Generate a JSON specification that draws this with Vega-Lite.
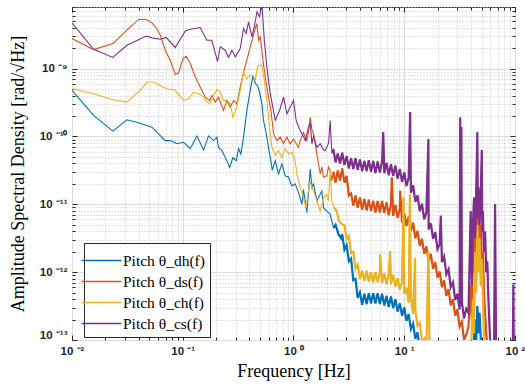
{
"$schema": "https://vega.github.io/schema/vega-lite/v6.json",
"width": 443, "height": 333,
"autosize": {"type": "none"},
"padding": {"left": 72, "top": 7, "right": 10, "bottom": 45},
"background": "white",
"config": {"view": {"stroke": "#262626", "strokeWidth": 1}},
"data": {"values": [
{"s":"dh","f":0.01,"v":4.79e-10},{"s":"dh","f":0.01567,"v":2.04e-10},{"s":"dh","f":0.0234,"v":1.2e-10},{"s":"dh","f":0.0313,"v":1.76e-10},{"s":"dh","f":0.0413,"v":1.57e-10},{"s":"dh","f":0.0527,"v":1.37e-10},{"s":"dh","f":0.0627,"v":1.03e-10},{"s":"dh","f":0.0695,"v":8.7e-11},{"s":"dh","f":0.0771,"v":8.7e-11},{"s":"dh","f":0.0887,"v":7.8e-11},{"s":"dh","f":0.1016,"v":8.2e-11},{"s":"dh","f":0.117,"v":6.6e-11},{"s":"dh","f":0.1343,"v":1.02e-10},{"s":"dh","f":0.1542,"v":6.3e-11},{"s":"dh","f":0.171,"v":1.02e-10},{"s":"dh","f":0.1897,"v":8.7e-11},{"s":"dh","f":0.2032,"v":9.8e-11},{"s":"dh","f":0.2104,"v":6.9e-11},{"s":"dh","f":0.2259,"v":6.2e-11},{"s":"dh","f":0.2333,"v":5.5e-11},{"s":"dh","f":0.2506,"v":4.37e-11},{"s":"dh","f":0.2649,"v":3.5e-11},{"s":"dh","f":0.2838,"v":4.9e-11},{"s":"dh","f":0.3041,"v":4.37e-11},{"s":"dh","f":0.3192,"v":6.6e-11},{"s":"dh","f":0.335,"v":5.5e-11},{"s":"dh","f":0.354,"v":9.8e-11},{"s":"dh","f":0.3793,"v":2.42e-10},{"s":"dh","f":0.4064,"v":4.79e-10},{"s":"dh","f":0.4305,"v":7.94e-10},{"s":"dh","f":0.4508,"v":6.03e-10},{"s":"dh","f":0.4732,"v":5.66e-10},{"s":"dh","f":0.4932,"v":4.51e-10},{"s":"dh","f":0.5188,"v":3.02e-10},{"s":"dh","f":0.5358,"v":1.72e-10},{"s":"dh","f":0.5675,"v":1.1e-10},{"s":"dh","f":0.5943,"v":6.9e-11},{"s":"dh","f":0.6252,"v":4.37e-11},{"s":"dh","f":0.6427,"v":3.16e-11},{"s":"dh","f":0.6839,"v":4.37e-11},{"s":"dh","f":0.7328,"v":2.82e-11},{"s":"dh","f":0.7852,"v":3.94e-11},{"s":"dh","f":0.8414,"v":2.63e-11},{"s":"dh","f":0.9016,"v":2.51e-11},{"s":"dh","f":0.9683,"v":1.86e-11},{"s":"dh","f":1.035,"v":2.0e-11},{"s":"dh","f":1.109,"v":1.5e-11},{"s":"dh","f":1.191,"v":1.0e-11},{"s":"dh","f":1.23,"v":1.66e-11},{"s":"dh","f":1.321,"v":7.6e-12},{"s":"dh","f":1.416,"v":3.31e-11},{"s":"dh","f":1.466,"v":1.78e-11},{"s":"dh","f":1.517,"v":2.0e-11},{"s":"dh","f":1.626,"v":1.12e-11},{"s":"dh","f":1.683,"v":1.26e-11},{"s":"dh","f":1.803,"v":1.58e-11},{"s":"dh","f":1.866,"v":8.91e-12},{"s":"dh","f":2.0,"v":7.94e-12},{"s":"dh","f":2.143,"v":7.16e-12},{"s":"dh","f":2.296,"v":4.52e-12},{"s":"dh","f":2.399,"v":5.01e-12},{"s":"dh","f":2.547,"v":3.63e-12},{"s":"dh","f":2.692,"v":3.16e-12},
{"s":"dh","f":2.754,"v":3.63e-12},{"s":"dh","f":2.884,"v":2.14e-12},{"s":"dh","f":3.02,"v":2.51e-12},{"s":"dh","f":3.162,"v":1.45e-12},{"s":"dh","f":3.311,"v":1.58e-12},{"s":"dh","f":3.467,"v":7.59e-13},{"s":"dh","f":3.631,"v":7.94e-13},{"s":"dh","f":3.802,"v":4.17e-13},{"s":"dh","f":3.981,"v":5.01e-13},{"s":"dh","f":4.169,"v":3.31e-13},{"s":"dh","f":4.365,"v":4.79e-13},{"s":"dh","f":4.571,"v":3.39e-13},{"s":"dh","f":4.786,"v":4.9e-13},{"s":"dh","f":5.012,"v":3.47e-13},{"s":"dh","f":5.248,"v":4.9e-13},{"s":"dh","f":5.495,"v":3.47e-13},{"s":"dh","f":5.754,"v":4.9e-13},{"s":"dh","f":6.026,"v":3.39e-13},{"s":"dh","f":6.31,"v":4.79e-13},{"s":"dh","f":6.607,"v":3.24e-13},{"s":"dh","f":6.918,"v":4.47e-13},{"s":"dh","f":7.244,"v":3.09e-13},{"s":"dh","f":7.586,"v":4.37e-13},{"s":"dh","f":7.943,"v":2.95e-13},{"s":"dh","f":8.318,"v":3.98e-13},{"s":"dh","f":8.71,"v":2.63e-13},{"s":"dh","f":9.12,"v":3.47e-13},{"s":"dh","f":9.55,"v":2.29e-13},{"s":"dh","f":10,"v":3.02e-13},{"s":"dh","f":10.47,"v":1.91e-13},{"s":"dh","f":10.96,"v":2.4e-13},{"s":"dh","f":11.48,"v":1.45e-13},{"s":"dh","f":12.02,"v":1.74e-13},{"s":"dh","f":12.59,"v":1.05e-13},{"s":"dh","f":13.18,"v":1.29e-13},{"s":"dh","f":13.8,"v":7.6e-14},{"s":"dh","f":14.45,"v":7.1e-14},{"s":"dh","f":15.85,"v":5e-14},{"s":"dh","f":41.69,"v":5e-14},{"s":"dh","f":43.65,"v":2.0e-13},{"s":"dh","f":44.67,"v":1.0e-13},{"s":"dh","f":45.71,"v":3.16e-13},{"s":"dh","f":46.77,"v":1.26e-13},{"s":"dh","f":47.86,"v":2.51e-13},{"s":"dh","f":50.12,"v":5e-14},{"s":"dh","f":97.7,"v":5e-14},

{"s":"ds","f":0.01,"v":2.78e-9},{"s":"ds","f":0.01567,"v":1.91e-9},{"s":"ds","f":0.0234,"v":2.34e-9},{"s":"ds","f":0.0313,"v":3.69e-9},{"s":"ds","f":0.0399,"v":5.31e-9},{"s":"ds","f":0.0469,"v":5.31e-9},{"s":"ds","f":0.0527,"v":4.73e-9},{"s":"ds","f":0.0585,"v":3.91e-9},{"s":"ds","f":0.0627,"v":3.11e-9},{"s":"ds","f":0.0695,"v":1.87e-9},{"s":"ds","f":0.0771,"v":1.33e-9},{"s":"ds","f":0.0855,"v":8.24e-10},{"s":"ds","f":0.0916,"v":8.61e-10},{"s":"ds","f":0.1005,"v":1.41e-9},{"s":"ds","f":0.1076,"v":1.52e-9},{"s":"ds","f":0.117,"v":1.19e-9},{"s":"ds","f":0.1297,"v":7.52e-10},{"s":"ds","f":0.1439,"v":5.35e-10},{"s":"ds","f":0.1596,"v":3.8e-10},{"s":"ds","f":0.1746,"v":3.4e-10},{"s":"ds","f":0.1832,"v":4.03e-10},{"s":"ds","f":0.1963,"v":3.21e-10},{"s":"ds","f":0.2104,"v":3.8e-10},{"s":"ds","f":0.2213,"v":3.03e-10},{"s":"ds","f":0.2333,"v":2.42e-10},{"s":"ds","f":0.2506,"v":3.4e-10},{"s":"ds","f":0.2685,"v":2.7e-10},{"s":"ds","f":0.2877,"v":3.4e-10},{"s":"ds","f":0.3083,"v":3.03e-10},{"s":"ds","f":0.3304,"v":5.35e-10},{"s":"ds","f":0.354,"v":8.91e-10},{"s":"ds","f":0.3793,"v":1.33e-9},{"s":"ds","f":0.4064,"v":2.09e-9},{"s":"ds","f":0.4305,"v":2.93e-9},{"s":"ds","f":0.4508,"v":3.91e-9},{"s":"ds","f":0.4677,"v":4.63e-9},{"s":"ds","f":0.4831,"v":2.62e-9},{"s":"ds","f":0.5012,"v":2.93e-9},{"s":"ds","f":0.53,"v":1.33e-9},{"s":"ds","f":0.5559,"v":7.52e-10},{"s":"ds","f":0.5943,"v":3.8e-10},{"s":"ds","f":0.6252,"v":2.42e-10},{"s":"ds","f":0.6607,"v":1.1e-10},{"s":"ds","f":0.7079,"v":8.7e-11},{"s":"ds","f":0.7586,"v":9.8e-11},{"s":"ds","f":0.8128,"v":7.8e-11},{"s":"ds","f":0.871,"v":9.8e-11},{"s":"ds","f":0.9333,"v":7.8e-11},{"s":"ds","f":1.0,"v":9.2e-11},{"s":"ds","f":1.109,"v":6.9e-11},{"s":"ds","f":1.148,"v":8.7e-11},{"s":"ds","f":1.23,"v":1.15e-10},{"s":"ds","f":1.321,"v":8.7e-11},{"s":"ds","f":1.365,"v":1.15e-10},{"s":"ds","f":1.416,"v":1.92e-10},{"s":"ds","f":1.466,"v":1.26e-10},{"s":"ds","f":1.517,"v":1.1e-10},{"s":"ds","f":1.626,"v":5.5e-11},{"s":"ds","f":1.742,"v":2.82e-11},{"s":"ds","f":1.803,"v":3.55e-11},{"s":"ds","f":1.866,"v":2.51e-11},{"s":"ds","f":2.0,"v":2.63e-11},{"s":"ds","f":2.07,"v":3.55e-11},{"s":"ds","f":2.143,"v":3.16e-11},{"s":"ds","f":2.218,"v":2.24e-11},
{"s":"ds","f":2.291,"v":3.02e-11},{"s":"ds","f":2.399,"v":2.09e-11},{"s":"ds","f":2.512,"v":3.16e-11},{"s":"ds","f":2.63,"v":2.24e-11},{"s":"ds","f":2.754,"v":3.39e-11},{"s":"ds","f":2.884,"v":2.09e-11},{"s":"ds","f":3.02,"v":2.63e-11},{"s":"ds","f":3.162,"v":1.35e-11},{"s":"ds","f":3.311,"v":1.45e-11},{"s":"ds","f":3.467,"v":9.55e-12},{"s":"ds","f":3.631,"v":1.35e-11},{"s":"ds","f":3.802,"v":8.91e-12},{"s":"ds","f":3.981,"v":1.26e-11},{"s":"ds","f":4.169,"v":8.32e-12},{"s":"ds","f":4.365,"v":1.2e-11},{"s":"ds","f":4.571,"v":8.13e-12},{"s":"ds","f":4.786,"v":1.17e-11},{"s":"ds","f":5.012,"v":7.94e-12},{"s":"ds","f":5.248,"v":1.12e-11},{"s":"ds","f":5.495,"v":7.59e-12},{"s":"ds","f":5.754,"v":1.12e-11},{"s":"ds","f":6.026,"v":7.59e-12},{"s":"ds","f":6.31,"v":1.12e-11},{"s":"ds","f":6.607,"v":7.41e-12},{"s":"ds","f":6.918,"v":1.07e-11},{"s":"ds","f":7.244,"v":6.92e-12},{"s":"ds","f":7.586,"v":1.0e-11},{"s":"ds","f":7.727,"v":2.51e-11},{"s":"ds","f":7.943,"v":6.76e-12},{"s":"ds","f":8.318,"v":9.77e-12},{"s":"ds","f":8.71,"v":6.31e-12},{"s":"ds","f":9.12,"v":8.51e-12},{"s":"ds","f":9.18,"v":1.58e-11},{"s":"ds","f":9.55,"v":5.37e-12},{"s":"ds","f":10,"v":7.41e-12},{"s":"ds","f":10.47,"v":4.79e-12},{"s":"ds","f":10.96,"v":6.61e-12},{"s":"ds","f":11.48,"v":4.07e-12},{"s":"ds","f":12.02,"v":5.37e-12},{"s":"ds","f":12.59,"v":3.16e-12},{"s":"ds","f":13.18,"v":4.07e-12},{"s":"ds","f":13.8,"v":2.45e-12},{"s":"ds","f":14.45,"v":3.09e-12},{"s":"ds","f":15.14,"v":1.86e-12},{"s":"ds","f":15.85,"v":2.4e-12},{"s":"ds","f":16.6,"v":1.45e-12},{"s":"ds","f":17.38,"v":1.86e-12},{"s":"ds","f":18.2,"v":1.12e-12},{"s":"ds","f":19.05,"v":1.41e-12},{"s":"ds","f":19.95,"v":8.32e-13},{"s":"ds","f":20.89,"v":1.02e-12},{"s":"ds","f":21.88,"v":6.03e-13},{"s":"ds","f":22.91,"v":7.59e-13},{"s":"ds","f":23.99,"v":4.47e-13},{"s":"ds","f":25.12,"v":5.62e-13},{"s":"ds","f":26.3,"v":3.24e-13},{"s":"ds","f":27.54,"v":3.98e-13},{"s":"ds","f":28.84,"v":2.29e-13},{"s":"ds","f":30.2,"v":2.82e-13},{"s":"ds","f":31.62,"v":1.58e-13},{"s":"ds","f":33.11,"v":1.86e-13},{"s":"ds","f":34.67,"v":1.0e-13},{"s":"ds","f":36.31,"v":1.2e-13},{"s":"ds","f":38.02,"v":1.58e-13},{"s":"ds","f":39.81,"v":6.31e-13},{"s":"ds","f":40.74,"v":2.0e-13},{"s":"ds","f":41.69,"v":3.16e-12},{"s":"ds","f":42.66,"v":1.0e-12},{"s":"ds","f":43.65,"v":6.31e-12},{"s":"ds","f":44.16,"v":1.26e-12},{"s":"ds","f":44.67,"v":1.78e-11},{"s":"ds","f":45.19,"v":3.16e-12},{"s":"ds","f":45.71,"v":5.01e-12},{"s":"ds","f":46.77,"v":1.0e-11},{"s":"ds","f":47.86,"v":2.51e-12},{"s":"ds","f":48.98,"v":5.01e-12},{"s":"ds","f":50.12,"v":1.0e-12},{"s":"ds","f":51.29,"v":2.0e-12},{"s":"ds","f":52.48,"v":5.01e-13},{"s":"ds","f":54.95,"v":1.26e-13},{"s":"ds","f":57.54,"v":5e-14},{"s":"ds","f":97.7,"v":5e-14},

{"s":"ch","f":0.01,"v":5.06e-10},{"s":"ch","f":0.01567,"v":4.27e-10},{"s":"ch","f":0.0234,"v":3.48e-10},{"s":"ch","f":0.0313,"v":3.21e-10},{"s":"ch","f":0.0413,"v":4.79e-10},{"s":"ch","f":0.0475,"v":6.34e-10},{"s":"ch","f":0.0546,"v":6.34e-10},{"s":"ch","f":0.0627,"v":5.66e-10},{"s":"ch","f":0.071,"v":5.06e-10},{"s":"ch","f":0.0855,"v":4.79e-10},{"s":"ch","f":0.1016,"v":3.4e-10},{"s":"ch","f":0.1127,"v":3.6e-10},{"s":"ch","f":0.125,"v":4.51e-10},{"s":"ch","f":0.139,"v":4.27e-10},{"s":"ch","f":0.1542,"v":3.8e-10},{"s":"ch","f":0.1652,"v":3.21e-10},{"s":"ch","f":0.1746,"v":3.03e-10},{"s":"ch","f":0.1897,"v":4.03e-10},{"s":"ch","f":0.2032,"v":4.9e-10},{"s":"ch","f":0.2178,"v":4.51e-10},{"s":"ch","f":0.2333,"v":3.4e-10},{"s":"ch","f":0.2506,"v":3.4e-10},{"s":"ch","f":0.2685,"v":3.03e-10},{"s":"ch","f":0.2838,"v":1.92e-10},{"s":"ch","f":0.3041,"v":2.56e-10},{"s":"ch","f":0.3304,"v":4.79e-10},{"s":"ch","f":0.354,"v":8.91e-10},{"s":"ch","f":0.3793,"v":7.11e-10},{"s":"ch","f":0.4064,"v":7.96e-10},{"s":"ch","f":0.4305,"v":7.94e-10},{"s":"ch","f":0.4508,"v":6.71e-10},{"s":"ch","f":0.4732,"v":1.06e-9},{"s":"ch","f":0.4932,"v":1.12e-9},{"s":"ch","f":0.5188,"v":1.12e-9},{"s":"ch","f":0.5445,"v":6.71e-10},{"s":"ch","f":0.5754,"v":3.4e-10},{"s":"ch","f":0.6081,"v":1.37e-10},{"s":"ch","f":0.6383,"v":6.92e-11},{"s":"ch","f":0.6839,"v":5.25e-11},{"s":"ch","f":0.7328,"v":6.17e-11},{"s":"ch","f":0.7852,"v":4.9e-11},{"s":"ch","f":0.8414,"v":6.61e-11},{"s":"ch","f":0.9016,"v":5.5e-11},{"s":"ch","f":0.9683,"v":5.89e-11},{"s":"ch","f":1.035,"v":4.37e-11},{"s":"ch","f":1.072,"v":2.82e-11},{"s":"ch","f":1.148,"v":1.78e-11},{"s":"ch","f":1.23,"v":1.26e-11},{"s":"ch","f":1.303,"v":8.91e-12},{"s":"ch","f":1.349,"v":1.41e-11},{"s":"ch","f":1.416,"v":2.24e-11},{"s":"ch","f":1.466,"v":1.78e-11},{"s":"ch","f":1.517,"v":1.58e-11},{"s":"ch","f":1.626,"v":1.12e-11},{"s":"ch","f":1.742,"v":7.94e-12},{"s":"ch","f":1.866,"v":1.26e-11},{"s":"ch","f":2.0,"v":1.41e-11},{"s":"ch","f":2.07,"v":1.12e-11},{"s":"ch","f":2.143,"v":3.16e-11},{"s":"ch","f":2.218,"v":1.12e-11},{"s":"ch","f":2.323,"v":8.91e-12},{"s":"ch","f":2.46,"v":7.94e-12},{"s":"ch","f":2.576,"v":5.62e-12},{"s":"ch","f":2.729,"v":5.13e-12},
{"s":"ch","f":2.884,"v":4.9e-12},{"s":"ch","f":3.02,"v":3.02e-12},{"s":"ch","f":3.162,"v":3.39e-12},{"s":"ch","f":3.311,"v":1.91e-12},{"s":"ch","f":3.467,"v":2.0e-12},{"s":"ch","f":3.631,"v":1.12e-12},{"s":"ch","f":3.802,"v":1.29e-12},{"s":"ch","f":3.981,"v":7.94e-13},{"s":"ch","f":4.169,"v":1.05e-12},{"s":"ch","f":4.365,"v":7.41e-13},{"s":"ch","f":4.571,"v":1.05e-12},{"s":"ch","f":4.786,"v":7.24e-13},{"s":"ch","f":5.012,"v":1.0e-12},{"s":"ch","f":5.248,"v":7.08e-13},{"s":"ch","f":5.495,"v":1.0e-12},{"s":"ch","f":5.754,"v":7.08e-13},{"s":"ch","f":6.026,"v":1.0e-12},{"s":"ch","f":6.05,"v":1.84e-12},{"s":"ch","f":6.31,"v":6.92e-13},{"s":"ch","f":6.607,"v":9.55e-13},{"s":"ch","f":6.918,"v":6.61e-13},{"s":"ch","f":7.244,"v":9.33e-13},{"s":"ch","f":7.46,"v":2.04e-12},{"s":"ch","f":7.586,"v":6.61e-13},{"s":"ch","f":7.943,"v":9.12e-13},{"s":"ch","f":8.318,"v":6.17e-13},{"s":"ch","f":8.71,"v":8.13e-13},{"s":"ch","f":9.12,"v":5.5e-13},{"s":"ch","f":9.55,"v":7.24e-13},{"s":"ch","f":9.84,"v":1.26e-11},{"s":"ch","f":10,"v":4.79e-13},{"s":"ch","f":10.47,"v":5.89e-13},{"s":"ch","f":10.96,"v":3.55e-13},{"s":"ch","f":11.25,"v":1.41e-11},{"s":"ch","f":11.48,"v":4.17e-13},{"s":"ch","f":12.02,"v":2.45e-13},{"s":"ch","f":12.53,"v":1.62e-12},{"s":"ch","f":12.59,"v":2.82e-13},{"s":"ch","f":13.18,"v":1.62e-13},{"s":"ch","f":13.8,"v":1.78e-13},{"s":"ch","f":14.45,"v":9.5e-14},{"s":"ch","f":15.14,"v":1.05e-13},{"s":"ch","f":15.85,"v":7.1e-14},{"s":"ch","f":16.52,"v":2.04e-12},{"s":"ch","f":17,"v":5e-14},{"s":"ch","f":39.81,"v":5e-14},{"s":"ch","f":41.69,"v":3.98e-13},{"s":"ch","f":42.66,"v":1.26e-13},{"s":"ch","f":43.65,"v":2.0e-12},{"s":"ch","f":44.67,"v":5.01e-13},{"s":"ch","f":45.71,"v":5.01e-12},{"s":"ch","f":46.77,"v":1.0e-12},{"s":"ch","f":47.86,"v":3.16e-12},{"s":"ch","f":48.98,"v":6.31e-13},{"s":"ch","f":50.12,"v":1.58e-12},{"s":"ch","f":52.48,"v":1.26e-13},{"s":"ch","f":54.95,"v":5e-14},{"s":"ch","f":97.7,"v":5e-14},

{"s":"cs","f":0.01,"v":4.73e-9},{"s":"cs","f":0.01567,"v":1.93e-9},{"s":"cs","f":0.0234,"v":1.46e-9},{"s":"cs","f":0.0313,"v":2.21e-9},{"s":"cs","f":0.0469,"v":3.03e-9},{"s":"cs","f":0.0527,"v":2.84e-9},{"s":"cs","f":0.0627,"v":2.71e-9},{"s":"cs","f":0.071,"v":2.88e-9},{"s":"cs","f":0.0855,"v":2.05e-9},{"s":"cs","f":0.1054,"v":3.6e-9},{"s":"cs","f":0.115,"v":3.78e-9},{"s":"cs","f":0.1439,"v":4.04e-9},{"s":"cs","f":0.165,"v":2.62e-9},{"s":"cs","f":0.183,"v":2.62e-9},{"s":"cs","f":0.206,"v":1.28e-9},{"s":"cs","f":0.218,"v":2.09e-9},{"s":"cs","f":0.242,"v":1.87e-9},{"s":"cs","f":0.259,"v":1.46e-9},{"s":"cs","f":0.278,"v":1.87e-9},{"s":"cs","f":0.298,"v":1.49e-9},{"s":"cs","f":0.33,"v":1.98e-9},{"s":"cs","f":0.354,"v":3.91e-9},{"s":"cs","f":0.374,"v":3.3e-9},{"s":"cs","f":0.393,"v":4.89e-9},{"s":"cs","f":0.422,"v":2.93e-9},{"s":"cs","f":0.445,"v":4.37e-9},{"s":"cs","f":0.468,"v":6.87e-9},{"s":"cs","f":0.493,"v":5.8e-9},{"s":"cs","f":0.519,"v":8.9e-9},{"s":"cs","f":0.545,"v":2.62e-9},{"s":"cs","f":0.575,"v":1.05e-9},{"s":"cs","f":0.617,"v":4.27e-10},{"s":"cs","f":0.684,"v":1.74e-10},{"s":"cs","f":0.748,"v":2.42e-10},{"s":"cs","f":0.813,"v":3.8e-10},{"s":"cs","f":0.871,"v":2.16e-10},{"s":"cs","f":0.933,"v":2.7e-10},{"s":"cs","f":1.0,"v":3.4e-10},{"s":"cs","f":1.057,"v":1.72e-10},{"s":"cs","f":1.148,"v":1.22e-10},{"s":"cs","f":1.23,"v":1.0e-10},{"s":"cs","f":1.276,"v":8.7e-11},{"s":"cs","f":1.365,"v":1.37e-10},{"s":"cs","f":1.416,"v":1.6e-10},{"s":"cs","f":1.466,"v":7.8e-11},{"s":"cs","f":1.517,"v":1.0e-10},{"s":"cs","f":1.626,"v":6.9e-11},{"s":"cs","f":1.742,"v":7.8e-11},{"s":"cs","f":1.866,"v":6.3e-11},{"s":"cs","f":1.932,"v":6.2e-11},{"s":"cs","f":2.07,"v":7.9e-11},{"s":"cs","f":2.143,"v":1.72e-10},{"s":"cs","f":2.22,"v":5.6e-11},
{"s":"cs","f":2.291,"v":6.46e-11},{"s":"cs","f":2.399,"v":4.17e-11},{"s":"cs","f":2.512,"v":5.62e-11},{"s":"cs","f":2.63,"v":3.98e-11},{"s":"cs","f":2.754,"v":5.75e-11},{"s":"cs","f":2.884,"v":3.8e-11},{"s":"cs","f":3.02,"v":5.13e-11},{"s":"cs","f":3.162,"v":3.39e-11},{"s":"cs","f":3.311,"v":4.79e-11},{"s":"cs","f":3.467,"v":3.31e-11},{"s":"cs","f":3.631,"v":4.79e-11},{"s":"cs","f":3.802,"v":3.24e-11},{"s":"cs","f":3.981,"v":4.57e-11},{"s":"cs","f":4.169,"v":3.09e-11},{"s":"cs","f":4.365,"v":4.37e-11},{"s":"cs","f":4.571,"v":3.09e-11},{"s":"cs","f":4.786,"v":4.47e-11},{"s":"cs","f":5.012,"v":3.02e-11},{"s":"cs","f":5.248,"v":4.37e-11},{"s":"cs","f":5.495,"v":2.88e-11},{"s":"cs","f":5.754,"v":4.27e-11},{"s":"cs","f":6.026,"v":2.95e-11},{"s":"cs","f":6.31,"v":4.27e-11},{"s":"cs","f":6.457,"v":1.15e-10},{"s":"cs","f":6.607,"v":2.88e-11},{"s":"cs","f":6.918,"v":4.07e-11},{"s":"cs","f":7.244,"v":2.69e-11},{"s":"cs","f":7.586,"v":3.89e-11},{"s":"cs","f":7.943,"v":2.63e-11},{"s":"cs","f":8.318,"v":3.72e-11},{"s":"cs","f":8.71,"v":2.4e-11},{"s":"cs","f":9.12,"v":3.31e-11},{"s":"cs","f":9.55,"v":2.14e-11},{"s":"cs","f":10,"v":2.95e-11},{"s":"cs","f":10.47,"v":1.86e-11},{"s":"cs","f":10.96,"v":2.45e-11},{"s":"cs","f":11.3,"v":2.29e-10},{"s":"cs","f":11.48,"v":1.48e-11},{"s":"cs","f":12.02,"v":1.91e-11},{"s":"cs","f":12.59,"v":1.1e-11},{"s":"cs","f":13.18,"v":1.35e-11},{"s":"cs","f":13.8,"v":7.94e-12},{"s":"cs","f":14.45,"v":1.02e-11},{"s":"cs","f":15.14,"v":6.03e-12},{"s":"cs","f":15.85,"v":7.59e-12},{"s":"cs","f":16.52,"v":9.1e-11},{"s":"cs","f":16.6,"v":4.27e-12},{"s":"cs","f":17.38,"v":5.25e-12},{"s":"cs","f":18.2,"v":3.09e-12},{"s":"cs","f":19.05,"v":3.89e-12},{"s":"cs","f":19.95,"v":2.19e-12},{"s":"cs","f":20.89,"v":2.57e-12},{"s":"cs","f":21.38,"v":6.76e-12},{"s":"cs","f":21.88,"v":1.41e-12},{"s":"cs","f":22.91,"v":1.7e-12},{"s":"cs","f":23.99,"v":9.33e-13},{"s":"cs","f":25.12,"v":1.1e-12},{"s":"cs","f":26.3,"v":6.03e-13},{"s":"cs","f":27.54,"v":7.08e-13},{"s":"cs","f":28.84,"v":3.89e-13},{"s":"cs","f":30.2,"v":4.79e-13},{"s":"cs","f":31.62,"v":2.82e-13},{"s":"cs","f":32.0,"v":1.9e-10},{"s":"cs","f":32.4,"v":3.16e-13},{"s":"cs","f":32.8,"v":1.38e-10},{"s":"cs","f":33.11,"v":3.63e-13},{"s":"cs","f":34.67,"v":2.09e-13},{"s":"cs","f":36.31,"v":2.88e-13},{"s":"cs","f":38.02,"v":2.51e-13},{"s":"cs","f":39.81,"v":7.94e-12},{"s":"cs","f":40.74,"v":6.31e-13},{"s":"cs","f":41.69,"v":5.01e-12},{"s":"cs","f":42.66,"v":1.26e-11},{"s":"cs","f":43.65,"v":3.16e-12},{"s":"cs","f":44.67,"v":1.58e-11},{"s":"cs","f":45.71,"v":1.15e-10},{"s":"cs","f":46.24,"v":6.31e-12},{"s":"cs","f":46.77,"v":1.78e-11},{"s":"cs","f":47.86,"v":5.01e-12},{"s":"cs","f":48.98,"v":1.26e-11},{"s":"cs","f":50.12,"v":6.31e-11},{"s":"cs","f":50.7,"v":3.98e-12},{"s":"cs","f":51.29,"v":7.94e-12},{"s":"cs","f":52.48,"v":2.0e-12},{"s":"cs","f":53.7,"v":3.98e-12},{"s":"cs","f":54.95,"v":1.0e-12},{"s":"cs","f":56.23,"v":1.45e-12},{"s":"cs","f":57.54,"v":3.98e-13},{"s":"cs","f":58.88,"v":1.58e-13},{"s":"cs","f":60.26,"v":6.3e-14},{"s":"cs","f":64.6,"v":5e-14},{"s":"cs","f":66.07,"v":1.0e-11},{"s":"cs","f":67.6,"v":5e-14},{"s":"cs","f":95.5,"v":5e-14},{"s":"cs","f":96.6,"v":6.6e-13},{"s":"cs","f":97.7,"v":5e-14}
]},
"layer": [
{
"mark": {"type": "line", "clip": true, "strokeWidth": 1.1},
"encoding": {
"x": {"field": "f", "type": "quantitative",
 "scale": {"type": "log", "domain": [0.01, 100], "nice": false},
 "axis": {"orient": "bottom", "values": [0.01,0.02,0.03,0.04,0.05,0.06,0.07,0.08,0.09,0.1,0.2,0.3,0.4,0.5,0.6,0.7,0.8,0.9,1,2,3,4,5,6,7,8,9,10,20,30,40,50,60,70,80,90,100],
  "title": "Frequency [Hz]", "titleFont": "Liberation Serif", "titleFontSize": 18, "titleFontWeight": "normal", "titleColor": "#000000", "titlePadding": 4,
  "labelExpr": "abs(log(datum.value)/LN10-round(log(datum.value)/LN10))<0.01 ? ['10 ⁻²','10 ⁻¹','10 ⁰','10 ¹','10 ²'][round(log(datum.value)/LN10)+2] : ''",
  "labelFont": "Liberation Sans", "labelFontSize": 11.5, "labelFontWeight": "bold", "labelColor": "#262626", "labelFlush": false, "labelOverlap": false, "labelPadding": 10,
  "domain": false, "tickColor": "#262626",
  "tickSize": {"condition": {"test": "abs(log(datum.value)/LN10-round(log(datum.value)/LN10))<0.01", "value": -5}, "value": -3},
  "grid": true,
  "gridColor": {"condition": {"test": "abs(log(datum.value)/LN10-round(log(datum.value)/LN10))<0.01", "value": "#dcdcdc"}, "value": "#c8c8c8"},
  "gridDash": {"condition": {"test": "abs(log(datum.value)/LN10-round(log(datum.value)/LN10))<0.01", "value": []}, "value": [1, 2]}
 }},
"y": {"field": "v", "type": "quantitative",
 "scale": {"type": "log", "domain": [1e-13, 8.1e-9], "nice": false},
 "axis": {"orient": "left", "values": [1e-13,2e-13,3e-13,4e-13,5e-13,6e-13,7e-13,8e-13,9e-13,1e-12,2e-12,3e-12,4e-12,5e-12,6e-12,7e-12,8e-12,9e-12,1e-11,2e-11,3e-11,4e-11,5e-11,6e-11,7e-11,8e-11,9e-11,1e-10,2e-10,3e-10,4e-10,5e-10,6e-10,7e-10,8e-10,9e-10,1e-9,2e-9,3e-9,4e-9,5e-9,6e-9,7e-9,8e-9],
  "title": "Amplitude Spectral Density [rad/√Hz]", "titleFont": "Liberation Serif", "titleFontSize": 18, "titleFontWeight": "normal", "titleColor": "#000000", "titlePadding": 12,
  "labelExpr": "abs(log(datum.value)/LN10-round(log(datum.value)/LN10))<0.01 ? ['10 ⁻¹³','10 ⁻¹²','10 ⁻¹¹','10 ⁻¹⁰','10 ⁻⁹'][round(log(datum.value)/LN10)+13] : ''",
  "labelFont": "Liberation Sans", "labelFontSize": 11.5, "labelFontWeight": "bold", "labelColor": "#262626", "labelFlush": true, "labelOverlap": false, "labelPadding": 10,
  "domain": false, "tickColor": "#262626",
  "tickSize": {"condition": {"test": "abs(log(datum.value)/LN10-round(log(datum.value)/LN10))<0.01", "value": -5}, "value": -3},
  "grid": true,
  "gridColor": {"condition": {"test": "abs(log(datum.value)/LN10-round(log(datum.value)/LN10))<0.01", "value": "#dcdcdc"}, "value": "#c8c8c8"},
  "gridDash": {"condition": {"test": "abs(log(datum.value)/LN10-round(log(datum.value)/LN10))<0.01", "value": []}, "value": [1, 2]}
 }},
"color": {"field": "s", "type": "nominal",
 "scale": {"domain": ["dh", "ds", "ch", "cs"], "range": ["#0072BD", "#D95319", "#EDB120", "#7E2F8E"]},
 "legend": {"orient": "none", "legendX": 12, "legendY": 236, "title": null, "fillColor": "white", "strokeColor": "#262626", "padding": 5,
  "symbolType": "M-1.7,0H1.7", "symbolSize": 550, "symbolStrokeWidth": 1.5, "labelFont": "Liberation Serif", "labelFontSize": 15.5, "labelColor": "#000000", "labelOffset": 9, "rowPadding": 0,
  "labelExpr": "'Pitch θ_' + datum.label + '(f)'"}}
}
},
{
"transform": [{"filter": "datum.f > 2.25"}],
"mark": {"type": "line", "clip": true, "strokeWidth": 2.2},
"encoding": {
"x": {"field": "f", "type": "quantitative", "scale": {"type": "log", "domain": [0.01, 100], "nice": false}, "axis": null},
"y": {"field": "v", "type": "quantitative", "scale": {"type": "log", "domain": [1e-13, 8.1e-9], "nice": false}, "axis": null},
"color": {"field": "s", "type": "nominal", "scale": {"domain": ["dh", "ds", "ch", "cs"], "range": ["#0072BD", "#D95319", "#EDB120", "#7E2F8E"]}, "legend": null}
}
},
{
"mark": {"type": "line", "clip": true, "strokeOpacity": 0},
"encoding": {
"x": {"field": "f", "type": "quantitative",
 "scale": {"type": "log", "domain": [0.01, 100], "nice": false},
 "axis": {"orient": "top", "values": [0.01,0.02,0.03,0.04,0.05,0.06,0.07,0.08,0.09,0.1,0.2,0.3,0.4,0.5,0.6,0.7,0.8,0.9,1,2,3,4,5,6,7,8,9,10,20,30,40,50,60,70,80,90,100],
  "title": null, "labels": false, "grid": false, "domain": false, "tickColor": "#262626",
  "tickSize": {"condition": {"test": "abs(log(datum.value)/LN10-round(log(datum.value)/LN10))<0.01", "value": -5}, "value": -3}}},
"y": {"field": "v", "type": "quantitative",
 "scale": {"type": "log", "domain": [1e-13, 8.1e-9], "nice": false},
 "axis": {"orient": "right", "values": [1e-13,2e-13,3e-13,4e-13,5e-13,6e-13,7e-13,8e-13,9e-13,1e-12,2e-12,3e-12,4e-12,5e-12,6e-12,7e-12,8e-12,9e-12,1e-11,2e-11,3e-11,4e-11,5e-11,6e-11,7e-11,8e-11,9e-11,1e-10,2e-10,3e-10,4e-10,5e-10,6e-10,7e-10,8e-10,9e-10,1e-9,2e-9,3e-9,4e-9,5e-9,6e-9,7e-9,8e-9],
  "title": null, "labels": false, "grid": false, "domain": false, "tickColor": "#262626",
  "tickSize": {"condition": {"test": "abs(log(datum.value)/LN10-round(log(datum.value)/LN10))<0.01", "value": -5}, "value": -3}}}
}
}
],
"resolve": {"axis": {"x": "independent", "y": "independent"}}
}
